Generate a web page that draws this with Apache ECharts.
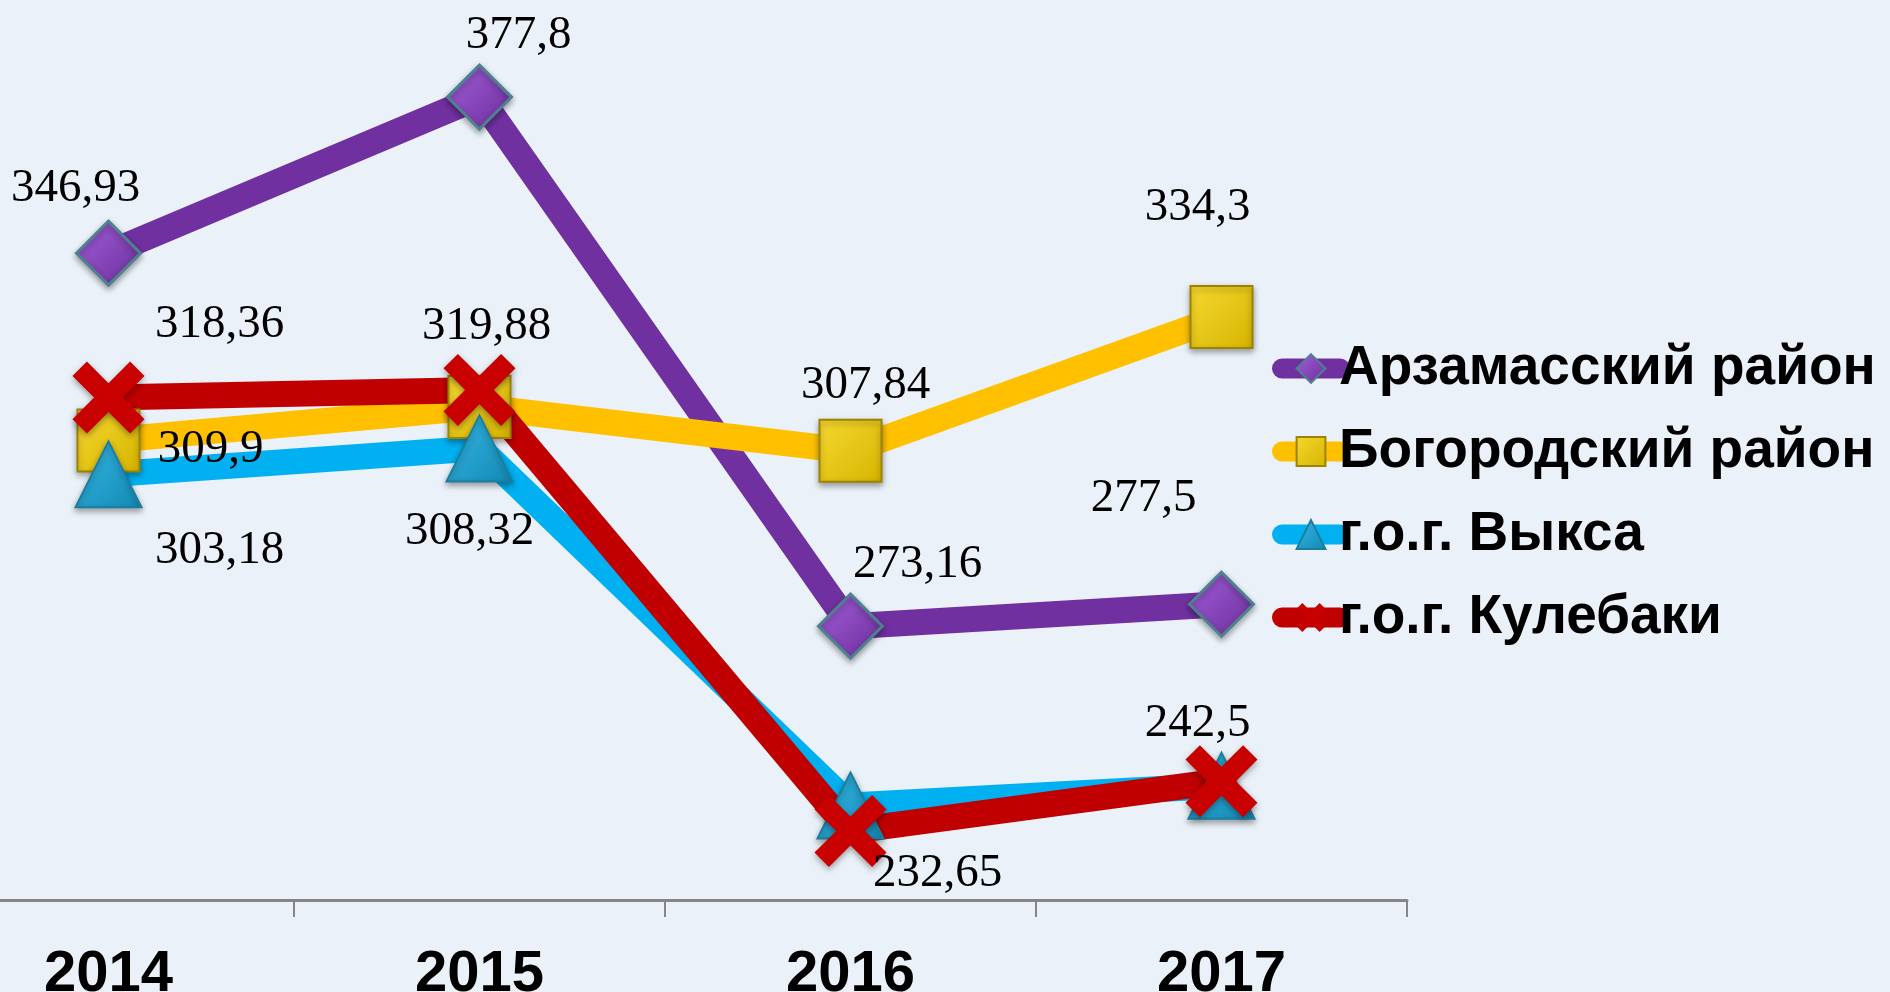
<!DOCTYPE html>
<html>
<head>
<meta charset="utf-8">
<title>chart</title>
<script src="https://cdn.jsdelivr.net/npm/echarts@6/dist/echarts.min.js"></script>
<style>
  html, body { margin: 0; padding: 0; background: #eaf1f8; }
  #chart { width: 1890px; height: 992px; }
</style>
</head>
<body>
<div id="chart"></div>
<script>
// данные
var years = ['2014', '2015', '2016', '2017'];
var arzamas = [346.93, 377.8, 273.16, 277.5];
var bogorodsk = [309.9, 316.5, 307.84, 334.3];
var vyksa = [303.18, 308.32, 237.7, 241.6];
var kulebaki = [318.36, 319.88, 232.65, 242.5];

// сдвиги подписей (null = подписи нет)
var arzamasLbl = [[-33, -65], [39, -61], [67, -62], [-78, -106]];
var bogorodskLbl = [[102, 9], null, [15, -65], [-24, -109]];
var vyksaLbl = [[111, 76], [-10, 83], null, null];
var kulebakiLbl = [[111, -73], [7, -63], [87, 43], [-24, -58]];

var crossPath = 'path://M0,20 L20,0 L50,30 L80,0 L100,20 L70,50 L100,80 L80,100 L50,70 L20,100 L0,80 L30,50 Z';

function withLabels(vals, offs) {
  return vals.map(function (v, i) {
    var o = offs[i];
    return {
      value: v,
      label: o ? { show: true, position: 'inside', offset: o } : { show: false }
    };
  });
}

function grad(c1, c2) {
  return {
    type: 'linear', x: 0, y: 0, x2: 1, y2: 1,
    colorStops: [{ offset: 0, color: c1 }, { offset: 1, color: c2 }]
  };
}

var labelStyle = {
  fontFamily: 'Liberation Serif',
  fontSize: 47,
  color: '#000',
  formatter: function (p) { return String(p.value).replace('.', ','); }
};

var shadow = {
  shadowBlur: 6,
  shadowColor: 'rgba(0,0,0,0.35)',
  shadowOffsetY: 3
};

var myChart = echarts.init(document.getElementById('chart'));
var option = {
  backgroundColor: '#eaf1f8',
  animation: false,
  grid: {
    left: -77,
    width: 1484,
    top: 0,
    height: 900,
    outerBoundsMode: 'none',
    containLabel: false
  },
  legend: {
    orient: 'vertical',
    left: 1267,
    top: 336,
    itemWidth: 58,
    itemHeight: 36,
    itemGap: 28,
    lineStyle: { width: 20, cap: 'round' },
    textStyle: {
      fontFamily: 'Liberation Sans',
      fontWeight: 'bold',
      fontSize: 55,
      color: '#000',
      padding: [0, 0, 0, -6]
    },
    data: ['Арзамасский район', 'Богородский район', 'г.о.г. Выкса', 'г.о.г. Кулебаки']
  },
  xAxis: {
    type: 'category',
    boundaryGap: true,
    data: years,
    axisLine: { lineStyle: { color: '#868686', width: 3 } },
    axisTick: { show: true, length: 17, lineStyle: { color: '#868686', width: 2 } },
    axisLabel: {
      margin: 46,
      fontFamily: 'Liberation Sans',
      fontWeight: 'bold',
      fontSize: 58,
      color: '#000'
    },
    splitLine: { show: false }
  },
  yAxis: {
    type: 'value',
    show: false,
    min: 219,
    max: 397,
    splitLine: { show: false }
  },
  series: [
    {
      name: 'Арзамасский район',
      type: 'line',
      symbol: 'diamond',
      symbolSize: 64,
      lineStyle: { color: '#7030a0', width: 26 },
      itemStyle: Object.assign({
        color: grad('#a461dc', '#6a2c98'),
        borderColor: '#4f8090',
        borderWidth: 3
      }, shadow),
      label: labelStyle,
      data: withLabels(arzamas, arzamasLbl)
    },
    {
      name: 'Богородский район',
      type: 'line',
      symbol: 'rect',
      symbolSize: 62,
      lineStyle: { color: '#ffc000', width: 26 },
      itemStyle: Object.assign({
        color: grad('#f5d830', '#d6b400'),
        borderColor: '#9c8400',
        borderWidth: 2
      }, shadow),
      label: labelStyle,
      data: withLabels(bogorodsk, bogorodskLbl)
    },
    {
      name: 'г.о.г. Выкса',
      type: 'line',
      symbol: 'triangle',
      symbolSize: 66,
      lineStyle: { color: '#00b0f0', width: 26 },
      itemStyle: Object.assign({
        color: grad('#35b8e4', '#1488b4'),
        borderColor: '#1a7ea0',
        borderWidth: 2
      }, shadow),
      label: labelStyle,
      data: withLabels(vyksa, vyksaLbl)
    },
    {
      name: 'г.о.г. Кулебаки',
      type: 'line',
      symbol: crossPath,
      symbolSize: 72,
      lineStyle: { color: '#c00000', width: 26 },
      itemStyle: Object.assign({
        color: '#c80000'
      }, shadow),
      label: labelStyle,
      data: withLabels(kulebaki, kulebakiLbl)
    }
  ]
};
myChart.setOption(option);
</script>
</body>
</html>
